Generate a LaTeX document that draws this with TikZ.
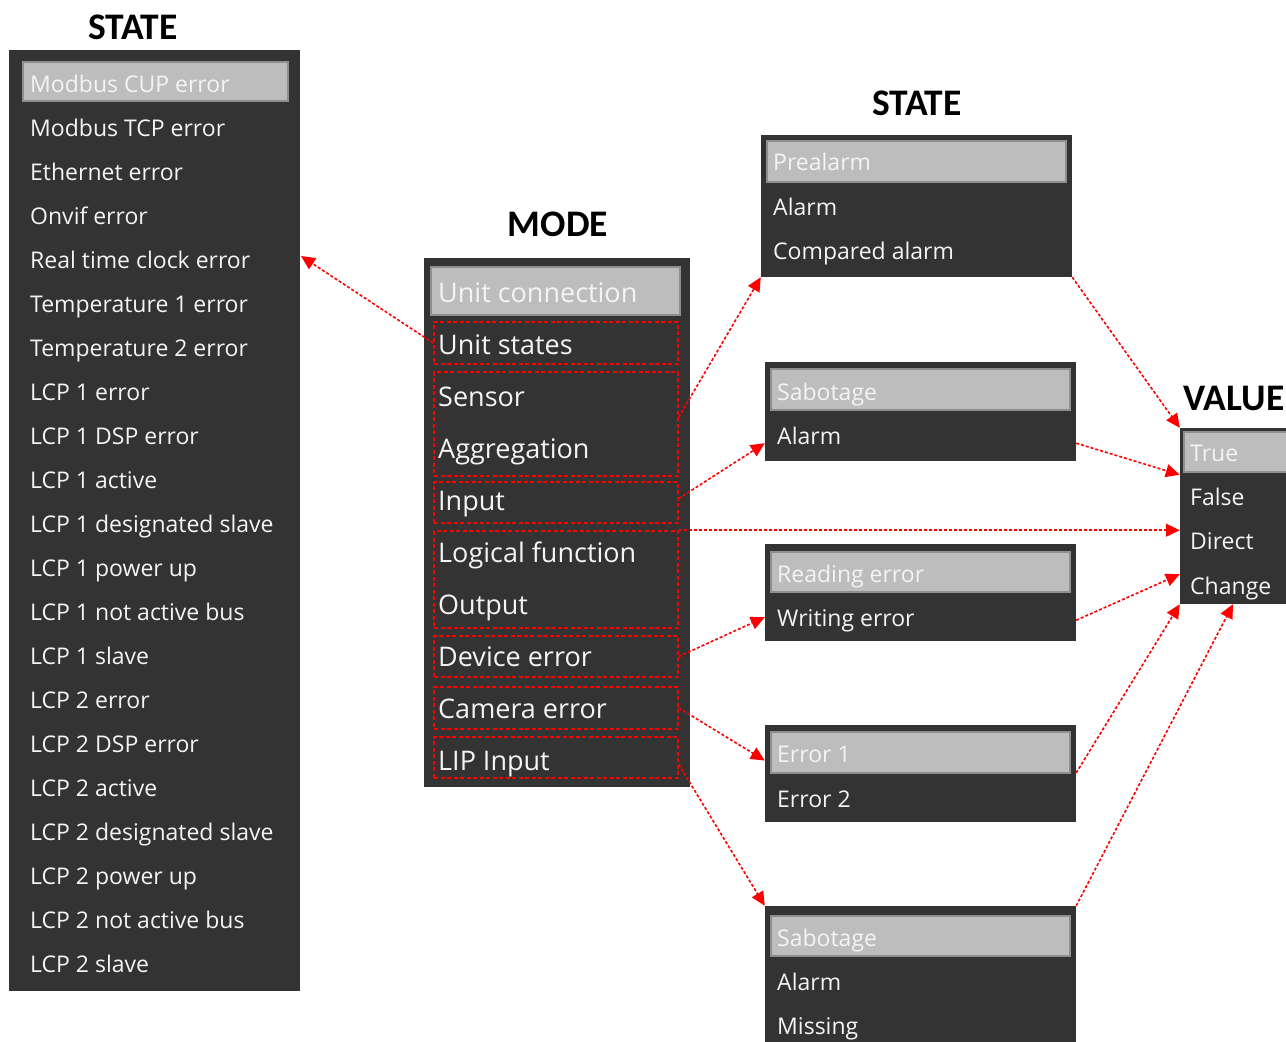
\documentclass[tikz,border=0pt]{standalone}
\usepackage{fontspec}
\setmainfont{Open Sans}
\newfontfamily\titlefont{Carlito}
\usetikzlibrary{arrows.meta,calc}
\definecolor{panelc}{HTML}{333333}
\definecolor{hlc}{HTML}{BDBDBD}
\definecolor{hlborder}{HTML}{8F8F8F}
\definecolor{itemc}{HTML}{F4F4F4}
\definecolor{redc}{HTML}{FF0000}
\tikzset{
  panelbox/.style={fill=panelc, draw=none, inner sep=0pt},
  hlbar/.style={fill=hlc, draw=hlborder, line width=1.5pt, inner sep=0pt},
  item/.style={anchor=west, inner sep=0pt, text height=0.72em, text depth=0pt, text=itemc, yshift=-5pt, font=\fontsize{23}{27}\selectfont},
  moditem/.style={item, yshift=-1pt, font=\fontsize{27}{32}\selectfont},
  titletext/.style={inner sep=0pt, yshift=-8pt, font=\titlefont\bfseries\fontsize{37.5}{42}\selectfont, text height=0.64em, text depth=0pt},
  modebox/.style={draw=redc, line width=1.6pt, dash pattern=on 4pt off 2.5pt, inner sep=0pt, minimum width=244pt},
  conn/.style={draw=redc, line width=1.6pt, dash pattern=on 3pt off 2pt, -{Triangle[length=14pt,width=13pt]}}
}
\begin{document}
\begin{tikzpicture}[x=1pt,y=-1pt]
\path[use as bounding box] (0,0) rectangle (1286,1042);
\clip (0,0) rectangle (1286,1042);
% titles
\node[titletext] (t1) at (133,28) {STATE};
\node[titletext] (t2) at (558,225) {MODE};
\node[titletext] (t3) at (917,104) {STATE};
\node[titletext] (t4) at (1234,399) {VALUE};
% left panel
\node[panelbox, minimum width=291pt, minimum height=941pt] (lp) at (154.5,520.5) {};
\node[hlbar, minimum width=265pt, minimum height=39pt] (lph) at (155.5,81.5) {};
\foreach \t [count=\i] in {Modbus CUP error,Modbus TCP error,Ethernet error,Onvif error,Real time clock error,Temperature 1 error,Temperature 2 error,LCP 1 error,LCP 1 DSP error,LCP 1 active,LCP 1 designated slave,LCP 1 power up,LCP 1 not active bus,LCP 1 slave,LCP 2 error,LCP 2 DSP error,LCP 2 active,LCP 2 designated slave,LCP 2 power up,LCP 2 not active bus,LCP 2 slave}
  \node[item] (l\i) at (30,40+44*\i) {\t};
% mode panel
\node[panelbox, minimum width=266pt, minimum height=529pt] (mp) at (557,522.5) {};
\node[hlbar, minimum width=249pt, minimum height=48pt] (mph) at (555.5,291) {};
\foreach \t [count=\i] in {Unit connection,Unit states,Sensor,Aggregation,Input,Logical function,Output,Device error,Camera error,LIP Input}
  \node[moditem] (m\i) at (438,241+52*\i) {\t};
% state boxes
\node[panelbox, minimum width=311pt, minimum height=142pt] (b1) at (916.5,206) {};
\node[hlbar, minimum width=299pt, minimum height=41pt] (b1h) at (916.5,161.5) {};
\node[item] (b1a) at (773,162) {Prealarm};
\node[item] (b1b) at (773,207) {Alarm};
\node[item] (b1c) at (773,251) {Compared alarm};
\node[panelbox, minimum width=311pt, minimum height=99pt] (b2) at (920.5,411.5) {};
\node[hlbar, minimum width=299pt, minimum height=41pt] (b2h) at (920.5,389.5) {};
\node[item] (b2a) at (777,392) {Sabotage};
\node[item] (b2b) at (777,436) {Alarm};
\node[panelbox, minimum width=311pt, minimum height=97pt] (b3) at (920.5,592.5) {};
\node[hlbar, minimum width=299pt, minimum height=40pt] (b3h) at (920.5,572) {};
\node[item] (b3a) at (777,574) {Reading error};
\node[item] (b3b) at (777,618) {Writing error};
\node[panelbox, minimum width=311pt, minimum height=97pt] (b4) at (920.5,773.5) {};
\node[hlbar, minimum width=299pt, minimum height=41pt] (b4h) at (920.5,752.5) {};
\node[item] (b4a) at (777,754) {Error 1};
\node[item] (b4b) at (777,799) {Error 2};
\node[panelbox, minimum width=311pt, minimum height=136pt] (b5) at (920.5,974) {};
\node[hlbar, minimum width=299pt, minimum height=40pt] (b5h) at (920.5,936) {};
\node[item] (b5a) at (777,938) {Sabotage};
\node[item] (b5b) at (777,982) {Alarm};
\node[item] (b5c) at (777,1026) {Missing};
% value box
\node[panelbox, minimum width=106pt, minimum height=176pt] (vb) at (1233,516) {};
\node[hlbar, minimum width=110pt, minimum height=40pt] (vbh) at (1239,452) {};
\node[item] (v1) at (1190,453) {True};
\node[item] (v2) at (1190,497) {False};
\node[item] (v3) at (1190,541) {Direct};
\node[item] (v4) at (1190,586) {Change};
% dashed groups in mode panel
\node[modebox, minimum height=42pt] (usbox) at (556,343) {};
\node[modebox, minimum height=104pt] (sabox) at (556,424) {};
\node[modebox, minimum height=41pt] (inbox) at (556,502.5) {};
\node[modebox, minimum height=97pt] (lobox) at (556,579.5) {};
\node[modebox, minimum height=41pt] (debox) at (556,656.5) {};
\node[modebox, minimum height=42pt] (cabox) at (556,708) {};
\node[modebox, minimum height=41pt] (lipbox) at (556,757.5) {};
% connectors
\coordinate (lpin) at (301,256);
\draw[conn] (usbox.west) -- (lpin);
\draw[conn] ([yshift=7pt]sabox.east) -- (b1.south west);
\draw[conn] ([yshift=4pt]inbox.east) -- ([yshift=18pt]b2.south west);
\draw[conn] (lobox.north east) -- (lobox.north east -| vb.west);
\draw[conn] (debox.east) -- ([yshift=24pt]b3.south west);
\draw[conn] (cabox.east) -- ([yshift=13pt]b4.west);
\draw[conn] ([yshift=-7pt]lipbox.east) -- (b5.north west);
\draw[conn] (b1.south east) -- (vb.north west);
\draw[conn] ([yshift=18pt]b2.south east) -- ([yshift=-47pt]vb.north west);
\draw[conn] ([yshift=21pt]b3.south east) -- ([yshift=30pt]vb.south west);
\draw[conn] ([yshift=-48pt]b4.north east) -- (vb.south west);
\draw[conn] (b5.north east) -- (vb.south);
\end{tikzpicture}
\end{document}
